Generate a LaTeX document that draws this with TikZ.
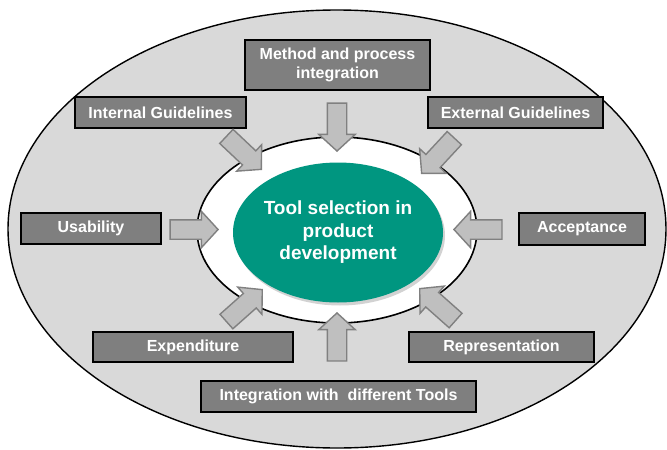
\documentclass[tikz,border=0pt]{standalone}
\usepackage{fontspec}
\setmainfont{Liberation Sans}
\usetikzlibrary{shapes.arrows,shapes.geometric,shadows}
\definecolor{boxgray}{RGB}{127,127,127}
\definecolor{ringgray}{RGB}{217,217,217}
\definecolor{arrowgray}{RGB}{191,191,191}
\definecolor{arrowline}{RGB}{128,128,128}
\definecolor{toolgreen}{RGB}{0,150,128}
\tikzset{
    factor/.style={draw=black, line width=1.6pt, fill=boxgray, text=white, align=center, inner sep=0pt,
        font=\bfseries\fontsize{16}{18.5}\selectfont},
    blockarrow/.style={single arrow, draw=arrowline, line width=1.4pt, fill=arrowgray, inner xsep=0pt, inner ysep=9pt,
        minimum height=48pt, single arrow head extend=8.5pt, single arrow tip angle=95},
}
\begin{document}
\begin{tikzpicture}[x=1pt, y=-1pt]
        \useasboundingbox (0,0) rectangle (667,450);
        \draw[fill=ringgray, line width=1.4pt] (337,229) ellipse [x radius=329, y radius=219];
        \draw[fill=white, line width=1.6pt] (337,230) ellipse [x radius=140, y radius=93];
        \node[ellipse, fill=toolgreen, inner sep=0pt, minimum width=210pt, minimum height=140pt,
            drop shadow={shadow xshift=2pt, shadow yshift=-3pt, opacity=0.35},
            text=white, align=center, font=\bfseries\fontsize{19}{22.5}\selectfont]
            (tool) at (338,232.5) {Tool selection in\\product\\development};
        \node[factor, minimum width=185pt, minimum height=50pt] (method) at (337.5,65) {Method and process\\integration};
        \node[factor, minimum width=171pt, minimum height=31pt] (internal) at (160.5,112.5) {Internal Guidelines};
        \node[factor, minimum width=175pt, minimum height=31pt] (external) at (515.5,112.5) {External Guidelines};
        \node[factor, minimum width=140pt, minimum height=31pt] (usability) at (91,228.5) {Usability};
        \node[factor, minimum width=126pt, minimum height=32pt] (acceptance) at (582,229) {Acceptance};
        \node[factor, minimum width=200pt, minimum height=30pt] (expenditure) at (193,347) {Expenditure};
        \node[factor, minimum width=185pt, minimum height=30pt] (representation) at (501.5,347) {Representation};
        \node[factor, minimum width=275pt, minimum height=31pt] (integration) at (338.5,396.5) {Integration with~ different Tools};
        \foreach \tx/\ty/\px/\py [count=\i] in {337/103/337/152, 453/139.5/421/174, 502/229.5/453/229.5, 455/320/419/288,
                337/359/337/312, 227/321/263/289, 171/229.5/219/229.5, 227/137/262/170} {
            \path (\tx,\ty) -- node[blockarrow, sloped, allow upside down, pos=1, anchor=tip] (arr\i) {} (\px,\py);
        }
    \end{tikzpicture}
\end{document}
